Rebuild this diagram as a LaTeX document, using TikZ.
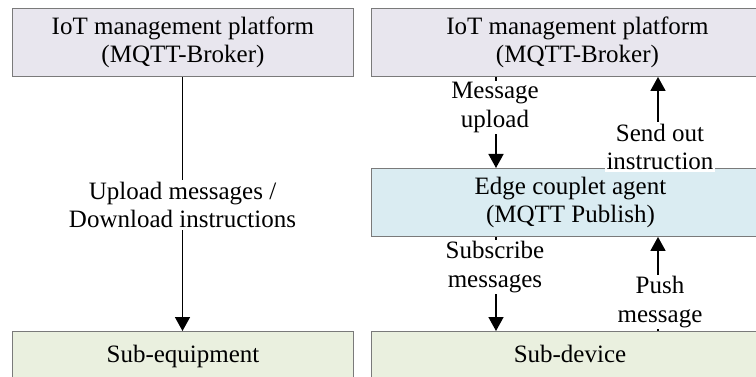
\documentclass[tikz,border=0pt]{standalone}
\usepackage{fontspec}
\setmainfont{Liberation Serif}
\usetikzlibrary{arrows.meta}
\definecolor{topfill}{HTML}{E8E6EE}
\definecolor{edgefill}{HTML}{DAECF2}
\definecolor{subfill}{HTML}{EAF0DF}
\definecolor{boxline}{HTML}{7A7A7A}
\tikzset{
  box/.style={draw=boxline, line width=0.9pt, anchor=north west, align=center, inner sep=0pt},
  lbl/.style={fill=white, align=center, inner sep=1.5pt},
  arr/.style={line width=1.6pt, -{Triangle[width=15pt,length=14pt]}},
  every node/.style={font=\fontsize{25}{28.5}\selectfont}
}
\begin{document}
\begin{tikzpicture}[x=1pt,y=1pt]
\useasboundingbox (0,0) rectangle (756,-377);
\clip (0,0) rectangle (756,-377);
\fill[white] (0,0) rectangle (756,-377);
% left column
\node[box, fill=topfill, minimum width=341, minimum height=68] (ltop) at (12,-8)
  {IoT management platform\\(MQTT-Broker)};
\node[box, fill=subfill, minimum width=341, minimum height=80] (lbot) at (12,-331) {};
\node[anchor=base] (lbottxt) at (183,-362) {Sub-equipment};
% right column
\node[box, fill=topfill, minimum width=420, minimum height=68] (rtop) at (371,-8)
  {\hspace*{-8pt}IoT management platform\\\hspace*{-8pt}(MQTT-Broker)};
\node[box, fill=edgefill, minimum width=420, minimum height=68] (edge) at (371,-168)
  {\hspace*{-22pt}Edge couplet agent\\\hspace*{-22pt}(MQTT Publish)};
\node[box, fill=subfill, minimum width=420, minimum height=80] (rbot) at (371,-331) {};
\node[anchor=base] (rbottxt) at (570,-362) {Sub-device};
% left connector
\coordinate (lx) at (182.5,0);
\draw[arr] (lx |- ltop.south) -- (lx |- lbot.north);
\node[lbl] (l1) at (182.5,-205) {Upload messages /\\Download instructions};
% right connectors
\coordinate (ax) at (496,0);
\coordinate (bx) at (658,0);
\draw[arr] (ax |- rtop.south) -- (ax |- edge.north);
\node[lbl] (mu) at (495,-107.5) {Message\\upload};
\draw[arr] (bx |- edge.north) -- (bx |- rtop.south);
\node[lbl] (so) at (660,-147) {Send out\\instruction};
\draw[arr] (ax |- edge.south) -- (ax |- rbot.north);
\node[lbl] (sm) at (495,-267) {Subscribe\\messages};
\draw[arr] (bx |- rbot.north) -- (bx |- edge.south);
\node[lbl] (pm) at (660,-302) {Push\\message};
\end{tikzpicture}
\end{document}
